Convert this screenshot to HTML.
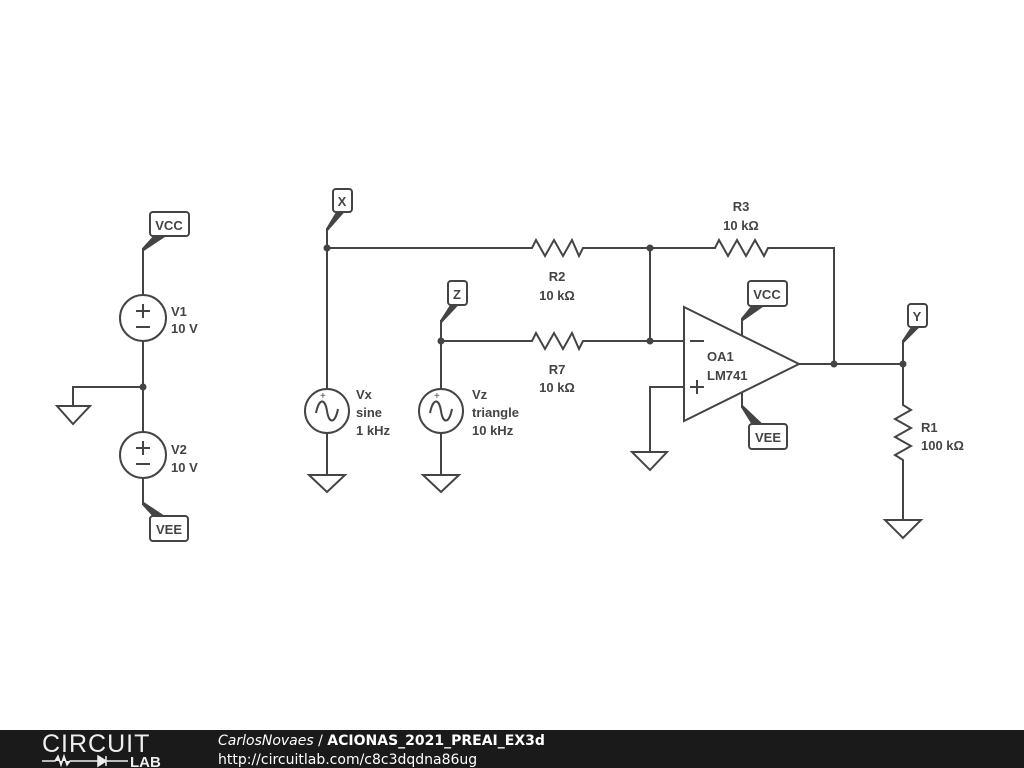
<!DOCTYPE html>
<html><head><meta charset="utf-8"><style>
body{margin:0;width:1024px;height:768px;background:#fff;overflow:hidden;font-family:"Liberation Sans",sans-serif}
svg{position:absolute;left:0;top:0}
.t text{font-family:"Liberation Sans",sans-serif;font-weight:bold;font-size:13px;fill:#444}
</style></head><body>
<svg width="1024" height="768" viewBox="0 0 1024 768">
<g fill="none" stroke="#444" stroke-width="2" stroke-linejoin="miter">
<path d="M143 248V295M143 341V432M143 478V505M143 387H73V406"/>
<circle cx="143" cy="318" r="23"/><circle cx="143" cy="455" r="23"/>
<path d="M57 406H90L73 424Z"/>
<path d="M136 311H150M143 304V318M136 327H150"/>
<path d="M136 448H150M143 441V455M136 464H150"/>
<path d="M327 228V389M327 433V475M309 475H345L327 492Z"/>
<circle cx="327" cy="411" r="22"/>
<path d="M316 413C319 398 325 398 327 411C329 424 335 424 338 409"/>
<path d="M441 320V389M441 433V475M423 475H459L441 492Z"/>
<circle cx="441" cy="411" r="22"/>
<path d="M430 413C433 398 439 398 441 411C443 424 449 424 452 409"/>
<path d="M327 248H532L536 240L545 256L554 240L563 256L572 240L579 256L583 248H715L719 240L728 256L737 240L746 256L755 240L764 256L768 248H834V364"/>
<path d="M441 341H532L536 333L545 349L554 333L563 349L572 333L579 349L583 341H684M650 248V341"/>
<path d="M684 307L799 364L684 421Z"/>
<path d="M690 341H704M690 387H704M697 380V394"/>
<path d="M684 387H650V452M632 452H667L650 470Z"/>
<path d="M742 318V336M742 392V408"/>
<path d="M799 364H903V405L911 410L895 419L911 428L895 437L911 446L895 455L903 460V520M885 520H921L903 538Z"/>
<path d="M903 364V340"/>
<rect x="150" y="212" width="39" height="24" rx="3"/>
<rect x="150" y="516" width="38" height="25" rx="3"/>
<rect x="333" y="189" width="19" height="23" rx="3"/>
<rect x="448" y="281" width="19" height="24" rx="3"/>
<rect x="748" y="281" width="39" height="25" rx="3"/>
<rect x="749" y="424" width="38" height="25" rx="3"/>
<rect x="908" y="304" width="19" height="23" rx="3"/>
</g>
<g fill="#444" stroke="#444" stroke-width="1">
<path d="M143 248L153 237L164 237L143 251Z"/>
<path d="M143 505L153 516L164 516L143 502Z"/>
<path d="M327 228L336 213L343 213L327 231Z"/>
<path d="M441 320L450 306L457 306L441 323Z"/>
<path d="M742 318L751 307L762 307L742 321Z"/>
<path d="M742 408L752 424L762 424L742 405Z"/>
<path d="M903 340L911 328L918 328L903 343Z"/>
<circle cx="143" cy="387" r="3"/><circle cx="327" cy="248" r="3"/><circle cx="441" cy="341" r="3"/>
<circle cx="650" cy="248" r="3"/><circle cx="650" cy="341" r="3"/><circle cx="834" cy="364" r="3"/><circle cx="903" cy="364" r="3"/>
</g>
<g class="t">
<text x="320" y="399" style="font-size:10px;font-weight:normal">+</text><text x="434" y="399" style="font-size:10px;font-weight:normal">+</text>
<text x="169" y="230" text-anchor="middle">VCC</text>
<text x="169" y="534" text-anchor="middle">VEE</text>
<text x="342" y="206" text-anchor="middle">X</text>
<text x="457" y="299" text-anchor="middle">Z</text>
<text x="767" y="299" text-anchor="middle">VCC</text>
<text x="768" y="442" text-anchor="middle">VEE</text>
<text x="917" y="321" text-anchor="middle">Y</text>
<text x="171" y="316">V1</text><text x="171" y="333">10 V</text>
<text x="171" y="454">V2</text><text x="171" y="472">10 V</text>
<text x="356" y="399">Vx</text><text x="356" y="417">sine</text><text x="356" y="435">1 kHz</text>
<text x="472" y="399">Vz</text><text x="472" y="417">triangle</text><text x="472" y="435">10 kHz</text>
<text x="557" y="281" text-anchor="middle">R2</text><text x="557" y="300" text-anchor="middle">10 kΩ</text>
<text x="741" y="211" text-anchor="middle">R3</text><text x="741" y="230" text-anchor="middle">10 kΩ</text>
<text x="557" y="374" text-anchor="middle">R7</text><text x="557" y="392" text-anchor="middle">10 kΩ</text>
<text x="707" y="361">OA1</text><text x="707" y="380">LM741</text>
<text x="921" y="432">R1</text><text x="921" y="450">100 kΩ</text>
</g>
<rect x="0" y="730" width="1024" height="38" fill="#1a1a1a"/>
<text x="42" y="752" fill="#eee" font-size="25" font-family="Liberation Sans" style="font-weight:normal" letter-spacing="1">CIRCUIT</text>
<path d="M42 761H55L58 756L61 765L64 756L67 765L70 761H98M98 756V766L106 761Z M106 756V766M106 761H128" stroke="#eee" stroke-width="1.5" fill="#eee"/>
<text x="130" y="767" fill="#eee" font-size="15" font-weight="bold">LAB</text>
<text x="218" y="745" fill="#fff" font-size="14" font-family="DejaVu Sans"><tspan font-style="italic">CarlosNovaes</tspan> / <tspan font-weight="bold">ACIONAS_2021_PREAI_EX3d</tspan></text>
<text x="218" y="764" fill="#fff" font-size="14" font-family="DejaVu Sans">http://circuitlab.com/c8c3dqdna86ug</text>
</svg>
</body></html>
